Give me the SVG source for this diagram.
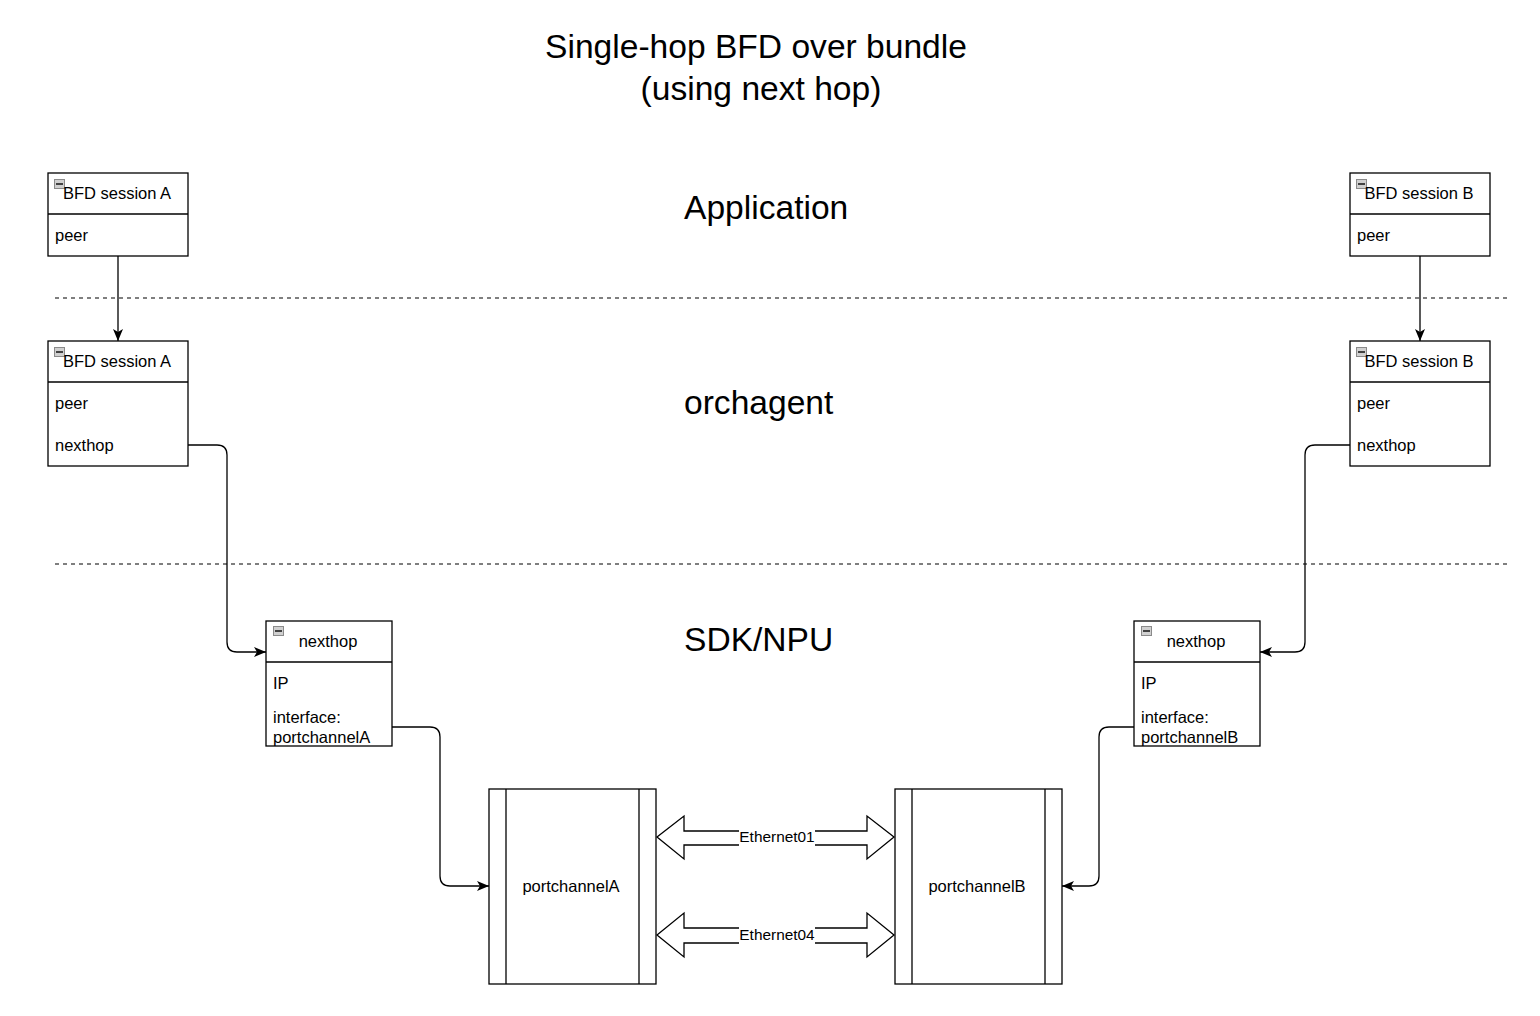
<svg xmlns="http://www.w3.org/2000/svg" width="1540" height="1016" viewBox="0 0 1540 1016">
<defs>
<style>
text{font-family:"Liberation Sans",Arial,Helvetica,sans-serif;fill:#000}
.box{fill:#fff;stroke:#000;stroke-width:1.3}
.div{stroke:#000;stroke-width:1.3}
.t{font-size:16.5px}
.big{font-size:33.6px}
.lbl{font-size:15.4px}
.conn{fill:none;stroke:#000;stroke-width:1.3}
.dash{stroke:#000;stroke-width:1.2;stroke-dasharray:4 4}
.ico{fill:#d0d0d0;stroke:#8a8a8a;stroke-width:1}
.flex{fill:#fff;stroke:#000;stroke-width:1.3;stroke-linejoin:miter}
</style>
<marker id="arr" markerUnits="userSpaceOnUse" markerWidth="14" markerHeight="12" refX="12" refY="5" orient="auto">
<path d="M0,0 L12,5 L0,10 L3,5 z" fill="#000"/>
</marker>
<g id="icon">
<rect x="0.5" y="0.5" width="10" height="9" class="ico"/>
<line x1="2" y1="5" x2="9" y2="5" stroke="#333" stroke-width="1.8"/>
</g>
<clipPath id="clipNA"><rect x="266" y="662" width="126" height="84"/></clipPath>
<clipPath id="clipNB"><rect x="1134" y="662" width="126" height="84"/></clipPath>
</defs>
<rect width="1540" height="1016" fill="#fff"/>

<g id="title">
<text class="big" x="756" y="58" text-anchor="middle">Single-hop BFD over bundle</text>
<text class="big" x="761" y="100" text-anchor="middle">(using next hop)</text>
</g>
<g id="layers">
<text class="big" x="684" y="219">Application</text>
<text class="big" x="684" y="414">orchagent</text>
<text class="big" x="684" y="651">SDK/NPU</text>
<line class="dash" x1="55" y1="298" x2="1510" y2="298"/>
<line class="dash" x1="55" y1="564" x2="1510" y2="564"/>
</g>

<g id="bfdA-app">
<rect class="box" x="48" y="173" width="140" height="83"/>
<line class="div" x1="48" y1="214" x2="188" y2="214"/>
<use href="#icon" x="54" y="179"/>
<text class="t" x="117" y="199" text-anchor="middle">BFD session A</text>
<text class="t" x="55" y="241">peer</text>
</g>
<g id="bfdA-orch">
<rect class="box" x="48" y="341" width="140" height="125"/>
<line class="div" x1="48" y1="382" x2="188" y2="382"/>
<use href="#icon" x="54" y="347"/>
<text class="t" x="117" y="367" text-anchor="middle">BFD session A</text>
<text class="t" x="55" y="409">peer</text>
<text class="t" x="55" y="451">nexthop</text>
</g>
<g id="bfdB-app">
<rect class="box" x="1350" y="173" width="140" height="83"/>
<line class="div" x1="1350" y1="214" x2="1490" y2="214"/>
<use href="#icon" x="1356" y="179"/>
<text class="t" x="1419" y="199" text-anchor="middle">BFD session B</text>
<text class="t" x="1357" y="241">peer</text>
</g>
<g id="bfdB-orch">
<rect class="box" x="1350" y="341" width="140" height="125"/>
<line class="div" x1="1350" y1="382" x2="1490" y2="382"/>
<use href="#icon" x="1356" y="347"/>
<text class="t" x="1419" y="367" text-anchor="middle">BFD session B</text>
<text class="t" x="1357" y="409">peer</text>
<text class="t" x="1357" y="451">nexthop</text>
</g>
<g id="nexthopA">
<rect class="box" x="266" y="621" width="126" height="125"/>
<line class="div" x1="266" y1="662" x2="392" y2="662"/>
<use href="#icon" x="273" y="626"/>
<text class="t" x="328" y="647" text-anchor="middle">nexthop</text>
<text class="t" x="273" y="689">IP</text>
<g clip-path="url(#clipNA)">
<text class="t" x="273" y="723">interface:</text>
<text class="t" x="273" y="743">portchannelA</text>
</g>
</g>
<g id="nexthopB">
<rect class="box" x="1134" y="621" width="126" height="125"/>
<line class="div" x1="1134" y1="662" x2="1260" y2="662"/>
<use href="#icon" x="1141" y="626"/>
<text class="t" x="1196" y="647" text-anchor="middle">nexthop</text>
<text class="t" x="1141" y="689">IP</text>
<g clip-path="url(#clipNB)">
<text class="t" x="1141" y="723">interface:</text>
<text class="t" x="1141" y="743">portchannelB</text>
</g>
</g>
<g id="portchannelA">
<rect class="box" x="489" y="789" width="167" height="195"/>
<line class="div" x1="506" y1="789" x2="506" y2="984"/>
<line class="div" x1="639" y1="789" x2="639" y2="984"/>
<text class="t" x="571" y="892" text-anchor="middle">portchannelA</text>
</g>
<g id="portchannelB">
<rect class="box" x="895" y="789" width="167" height="195"/>
<line class="div" x1="912" y1="789" x2="912" y2="984"/>
<line class="div" x1="1045" y1="789" x2="1045" y2="984"/>
<text class="t" x="977" y="892" text-anchor="middle">portchannelB</text>
</g>

<g id="connectors">
<path class="conn" d="M118,256 V341" marker-end="url(#arr)"/>
<path class="conn" d="M1420,256 V341" marker-end="url(#arr)"/>
<path class="conn" d="M188,445 H217 Q227,445 227,455 V642 Q227,652 237,652 H266" marker-end="url(#arr)"/>
<path class="conn" d="M1350,445 H1315 Q1305,445 1305,455 V642 Q1305,652 1295,652 H1260" marker-end="url(#arr)"/>
<path class="conn" d="M392,727 H430 Q440,727 440,737 V876 Q440,886 450,886 H489" marker-end="url(#arr)"/>
<path class="conn" d="M1134,727 H1109 Q1099,727 1099,737 V876 Q1099,886 1089,886 H1062" marker-end="url(#arr)"/>
<polygon class="flex" points="657,837 684,816 684,831 867,831 867,816 894,837 867,859 867,845 684,845 684,859"/>
<polygon class="flex" points="657,935 684,913 684,928 867,928 867,913 894,935 867,957 867,943 684,943 684,957"/>
<rect x="739" y="828" width="76" height="18" fill="#fff"/>
<text class="lbl" x="777" y="842" text-anchor="middle">Ethernet01</text>
<rect x="739" y="926" width="76" height="18" fill="#fff"/>
<text class="lbl" x="777" y="940" text-anchor="middle">Ethernet04</text>
</g>
</svg>
